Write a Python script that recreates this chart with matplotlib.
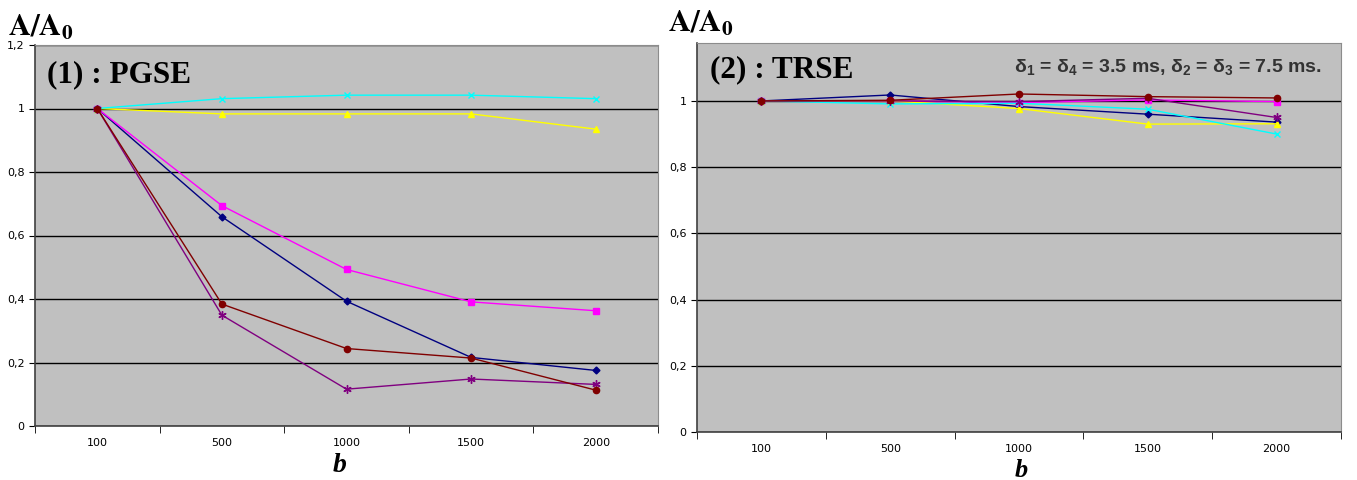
import matplotlib
matplotlib.use('Agg')
import matplotlib.pyplot as plt
import numpy as np

plt.rcParams['mathtext.fontset'] = 'custom'
plt.rcParams['mathtext.rm'] = 'Liberation Sans:bold'
plt.rcParams['mathtext.it'] = 'Liberation Sans:bold'
plt.rcParams['mathtext.bf'] = 'Liberation Sans:bold'

b_values = ['100', '500', '1000', '1500', '2000']

# (1) PGSE
pgse_navy = [1.0, 0.659, 0.393, 0.216, 0.175]
pgse_magenta = [1.0, 0.694, 0.493, 0.391, 0.363]
pgse_yellow = [1.0, 0.983, 0.983, 0.983, 0.935]
pgse_cyan = [1.0, 1.031, 1.042, 1.042, 1.031]
pgse_purple = [1.0, 0.349, 0.116, 0.148, 0.131]
pgse_darkred = [1.0, 0.384, 0.244, 0.214, 0.113]

# (2) TRSE
trse_navy = [1.0, 1.018, 0.983, 0.960, 0.936]
trse_magenta = [1.0, 1.0, 0.995, 1.003, 0.998]
trse_yellow = [1.0, 1.0, 0.977, 0.930, 0.931]
trse_cyan = [1.0, 0.991, 0.993, 0.975, 0.900]
trse_purple = [1.0, 1.0, 0.998, 1.008, 0.950]
trse_darkred = [1.0, 1.002, 1.021, 1.013, 1.009]

yticks_left = [0, 0.2, 0.4, 0.6, 0.8, 1.0, 1.2]
yticks_right = [0, 0.2, 0.4, 0.6, 0.8, 1.0]

styles = [
    ('#000080', 'D', 3.5),
    ('#FF00FF', 's', 4),
    ('#FFFF00', '^', 4.5),
    ('#00FFFF', 'x', 5),
    ('#800080', (6, 2, 0), 6),
    ('#800000', 'o', 4.5),
]

fig = plt.figure(figsize=(13.57, 4.8), dpi=100)
ax1 = fig.add_axes([35 / 1357, 54 / 480, 623 / 1357, 381 / 480])
ax2 = fig.add_axes([697 / 1357, 48 / 480, 644 / 1357, 389 / 480])


def draw(ax, series, ylim, yticks):
    ax.set_facecolor('#C0C0C0')
    x = np.arange(len(b_values))
    for ys, (c, m, ms) in zip(series, styles):
        ax.plot(x, ys, color=c, marker=m, markersize=ms, lw=1.0,
                markeredgewidth=1.0, zorder=3)
    ax.set_xlim(-0.5, len(b_values) - 0.5)
    ax.set_ylim(*ylim)
    ax.set_xticks(x)
    ax.set_xticklabels(b_values, fontsize=8)
    ax.set_xticks(np.arange(-0.5, len(b_values)), minor=True)
    ax.tick_params(axis='x', which='major', length=0, pad=9)
    ax.tick_params(axis='x', which='minor', length=5, direction='out')
    ax.set_yticks(yticks)
    ax.set_yticklabels([('%g' % v).replace('.', ',') for v in yticks], fontsize=8)
    ax.tick_params(axis='y', length=4, direction='out')
    ax.yaxis.grid(True, color='black', lw=1.0)
    ax.set_axisbelow(True)
    for s in ['top', 'right']:
        ax.spines[s].set_color('#8C8C8C')
    for s in ['left', 'bottom']:
        ax.spines[s].set_color('#404040')
        ax.spines[s].set_linewidth(1.2)


draw(ax1, [pgse_navy, pgse_magenta, pgse_yellow, pgse_cyan, pgse_purple, pgse_darkred],
     (0, 1.2), yticks_left)
draw(ax2, [trse_navy, trse_magenta, trse_yellow, trse_cyan, trse_purple, trse_darkred],
     (0, 1.175), yticks_right)

fig.text(8 / 1357, 1 - 36 / 480, r'$\mathbf{A/A_0}$', math_fontfamily='stix',
         fontsize=22, ha='left', va='baseline')
fig.text(668 / 1357, 1 - 31 / 480, r'$\mathbf{A/A_0}$', math_fontfamily='stix',
         fontsize=22, ha='left', va='baseline')

ax1.text(0.019, 0.902, '(1) : PGSE', transform=ax1.transAxes, family='Liberation Serif',
         fontweight='bold', fontsize=22.5, ha='left', va='baseline')
ax2.text(0.02, 0.912, '(2) : TRSE', transform=ax2.transAxes, family='Liberation Serif',
         fontweight='bold', fontsize=22.5, ha='left', va='baseline')
ax2.text(0.97, 0.925, 'δ$_1$ = δ$_4$ = 3.5 ms, δ$_2$ = δ$_3$ = 7.5 ms.',
         transform=ax2.transAxes, family='Liberation Sans', fontweight='bold',
         fontsize=14, color='#333333', ha='right', va='baseline')

fig.text(340 / 1357, 1 - 472 / 480, 'b', family='Liberation Serif', fontweight='bold',
         style='italic', fontsize=20, ha='center', va='baseline')
fig.text(1021 / 1357, 1 - 477 / 480, 'b', family='Liberation Serif', fontweight='bold',
         style='italic', fontsize=19, ha='center', va='baseline')

fig.savefig('out.png', dpi=100)
